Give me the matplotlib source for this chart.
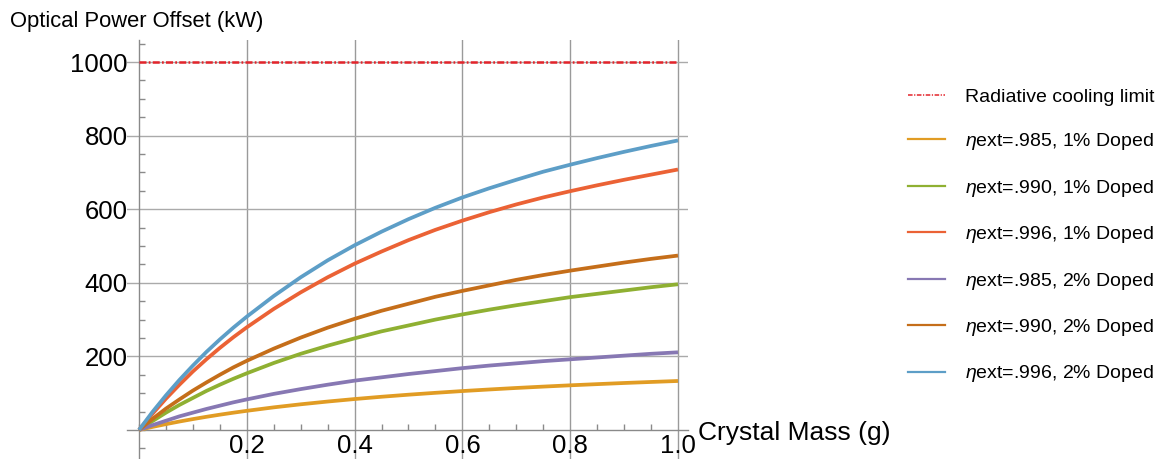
import matplotlib
matplotlib.use("Agg")
import matplotlib.pyplot as plt
from matplotlib.lines import Line2D
from matplotlib.ticker import MultipleLocator, FixedLocator

plt.rcParams['font.family'] = ['Liberation Sans', 'DejaVu Sans']
plt.rcParams['mathtext.fontset'] = 'custom'
plt.rcParams['mathtext.rm'] = 'Liberation Sans'
plt.rcParams['mathtext.it'] = 'Liberation Sans:italic'

# ---- data ----
mass = [0.0, 0.025, 0.05, 0.075, 0.1, 0.125, 0.15, 0.175, 0.2, 0.25, 0.3, 0.35, 0.4,
        0.45, 0.5, 0.55, 0.6, 0.65, 0.7, 0.75, 0.8, 0.85, 0.9, 0.95, 1.0]
eta985_1 = [0, 8.2, 15.8, 22.9, 29.5, 35.7, 41.5, 46.9, 52.0, 61.4, 69.7, 77.2, 84.0,
            90.2, 95.8, 100.9, 105.7, 110.0, 114.1, 117.8, 121.3, 124.5, 127.6, 130.4, 133.1]
eta990_1 = [0, 24, 47, 68, 87, 106, 123, 139, 154, 182, 207, 229, 249,
            268, 284, 300, 314, 327, 339, 350, 361, 370, 379, 388, 396]
eta996_1 = [0, 44, 85, 123, 159, 192, 223, 252, 279, 329, 374, 415, 452,
            485, 516, 544, 569, 592, 613, 632, 649, 665, 680, 694, 708]
eta985_2 = [0, 13, 25, 37, 47, 57, 66, 75, 83, 98, 111, 123, 134,
            143, 152, 160, 168, 175, 181, 187, 192, 197, 202, 207, 211]
eta990_2 = [0, 30, 58, 83, 107, 129, 150, 170, 188, 221, 251, 278, 302,
            324, 343, 362, 378, 393, 408, 421, 433, 444, 455, 465, 474]
eta996_2 = [0, 49, 94, 136, 175, 212, 246, 278, 308, 364, 415, 461, 502,
            539, 573, 604, 632, 657, 680, 702, 721, 739, 756, 772, 787]
radiative_limit = 1000

series = [
    (eta985_1, r'$\eta$ext=.985, 1% Doped', '#E19C24'),
    (eta990_1, r'$\eta$ext=.990, 1% Doped', '#8FB032'),
    (eta996_1, r'$\eta$ext=.996, 1% Doped', '#EB6235'),
    (eta985_2, r'$\eta$ext=.985, 2% Doped', '#8778B3'),
    (eta990_2, r'$\eta$ext=.990, 2% Doped', '#C56E1A'),
    (eta996_2, r'$\eta$ext=.996, 2% Doped', '#5D9EC7'),
]
xticks = [0.2, 0.4, 0.6, 0.8, 1.0]
xticklabels = ['0.2', '0.4', '0.6', '0.8', '1.0']
yticks = [200, 400, 600, 800, 1000]
yticklabels = ['200', '400', '600', '800', '1000']

W, H = 1161, 459
fig = plt.figure(figsize=(W / 100, H / 100), dpi=100)
ax = fig.add_axes([127 / W, 0.0, (688 - 127) / W, (459 - 40) / H])
ax.set_xlim(-0.0223, 1.0186)
ax.set_ylim(-79, 1060)

grid_c = '#9a9a9a'
for xv in xticks:
    ax.axvline(xv, color=grid_c, lw=1.0, zorder=1)
for yv in yticks:
    ax.axhline(yv, color='#aaaaaa', lw=1.0, zorder=1)

red_c = '#E3242B'
ax.plot([mass[0], mass[-1]], [radiative_limit, radiative_limit], color=red_c,
        lw=1.8, linestyle=(0, (2.8, 0.9, 0.7, 0.9)), zorder=3)

for vals, lab, col in series:
    ax.plot(mass, vals, color=col, lw=2.7, solid_capstyle='butt',
            solid_joinstyle='round', zorder=4)

for s in ['top', 'right']:
    ax.spines[s].set_visible(False)
ax.spines['left'].set_position(('data', 0))
ax.spines['bottom'].set_position(('data', 0))
for s in ['left', 'bottom']:
    ax.spines[s].set_color('#8a8a8a')
    ax.spines[s].set_linewidth(1.0)

ax.xaxis.set_major_locator(FixedLocator(xticks))
ax.set_xticklabels(xticklabels)
ax.yaxis.set_major_locator(FixedLocator(yticks))
ax.set_yticklabels(yticklabels)
ax.xaxis.set_minor_locator(MultipleLocator(0.05))
ax.yaxis.set_minor_locator(MultipleLocator(50))
ax.tick_params(axis='both', which='both', direction='in', color='#8a8a8a', width=1.0)
ax.tick_params(axis='both', which='major', length=0, labelsize=18.5, pad=8)
ax.tick_params(axis='x', which='major', pad=3)
ax.tick_params(axis='both', which='minor', length=4)
ax.set_facecolor('none')

fig.text(10 / W, 1 - 21 / H, 'Optical Power Offset (kW)', fontsize=15.8,
         ha='left', va='center')
fig.text(698 / W, 1 - 433 / H, 'Crystal Mass (g)', fontsize=19,
         ha='left', va='center')

handles = [Line2D([], [], color=red_c, lw=1.1, linestyle=(0, (3.0, 1.0, 0.8, 1.0)))]
labels = ['Radiative cooling limit']
for vals, lab, col in series:
    handles.append(Line2D([], [], color=col, lw=1.6))
    labels.append(lab)
leg = fig.legend(handles, labels, loc='upper left', bbox_to_anchor=(908 / W, 1 - 88 / H),
                 frameon=False, fontsize=14, handlelength=1.9, handletextpad=1.03,
                 labelspacing=1.31, borderpad=0, borderaxespad=0)

fig.savefig('out.png', dpi=100)
